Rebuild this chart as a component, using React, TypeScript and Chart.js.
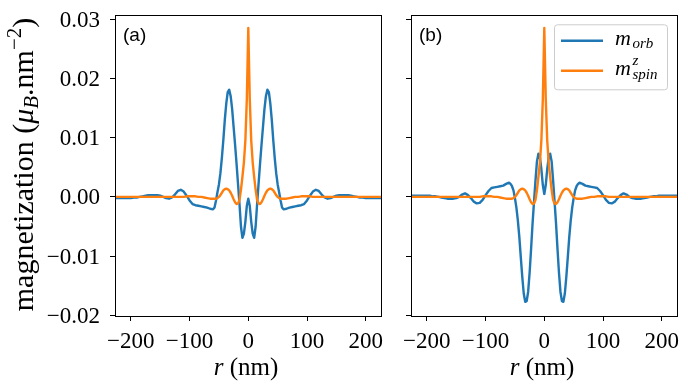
import React, { useEffect, useRef } from "react";
import { Chart, registerables } from "chart.js";

Chart.register(...registerables);

// radial position r (nm)
const rValues: number[] = [
  -230, -225, -220, -215, -210, -205, -200, -195, -190, -185,
  -180, -175, -170, -165, -160, -155, -150, -145, -140, -135,
  -130, -125, -120, -115, -110, -105, -100, -95, -90, -85,
  -80, -75, -70, -65, -60,
  -57.5, -55, -52.5, -50, -47.5, -45, -42.5, -40, -37.5, -35, -32.5, -30,
  -27.5, -25, -22.5, -20, -17.5, -15, -12.5, -10, -7.5, -5, -2.5,
  0,
  2.5, 5, 7.5, 10, 12.5, 15, 17.5, 20, 22.5, 25, 27.5, 30,
  32.5, 35, 37.5, 40, 42.5, 45, 47.5, 50, 52.5, 55, 57.5,
  60, 65, 70, 75, 80,
  85, 90, 95, 100, 105, 110, 115, 120, 125, 130,
  135, 140, 145, 150, 155, 160, 165, 170, 175, 180,
  185, 190, 195, 200, 205, 210, 215, 220, 225, 230,
];

// m^z_spin (same in both panels)
const spinZ: number[] = [
  0, 0, 0, 0, 0, 0, 0, 0, 0, 0,
  0, 0, 0, 0, 0, 0, 0, 0, 0, 0,
  0, 0, 0, 0, 0, 0.0001, 0.0001, 0.0001, 0.0001, 0,
  0, -0.0001, -0.0002, -0.0003, -0.0003,
  -0.0003, -0.0003, -0.0002, 0, 0.0003, 0.0007, 0.0011, 0.0013, 0.0014, 0.0013, 0.0011, 0.0007,
  0.0002, -0.0004, -0.0009, -0.0012, -0.0011, -0.0005, 0.0012, 0.0034, 0.0058, 0.0095, 0.0165,
  0.0285,
  0.0165, 0.0095, 0.0058, 0.0034, 0.0012, -0.0005, -0.0011, -0.0012, -0.0009, -0.0004, 0.0002, 0.0007,
  0.0011, 0.0013, 0.0014, 0.0013, 0.0011, 0.0007, 0.0003, 0, -0.0002, -0.0003, -0.0003,
  -0.0003, -0.0003, -0.0002, -0.0001, 0,
  0, 0.0001, 0.0001, 0.0001, 0.0001, 0, 0, 0, 0, 0,
  0, 0, 0, 0, 0, 0, 0, 0, 0, 0,
  0, 0, 0, 0, 0, 0, 0, 0, 0, 0,
];

// m_orb, panel (a)
const orbA: number[] = [
  -0.0002, -0.0002, -0.0002, -0.0002, -0.0002, -0.0002, -0.0002, -0.0001, -0.0001, 0,
  0.0001, 0.0002, 0.0003, 0.0003, 0.0003, 0.0003, 0.0002, 0, -0.0002, -0.0003,
  -0.0001, 0.0004, 0.001, 0.0012, 0.0009, 0.0002, -0.0006, -0.0012, -0.0014, -0.0015,
  -0.0016, -0.0017, -0.0018, -0.002, -0.0021,
  -0.0018, -0.0006, 0.0008, 0.0021, 0.004, 0.0066, 0.0096, 0.013, 0.0158, 0.0177, 0.0181, 0.017,
  0.0148, 0.0118, 0.0088, 0.0056, 0.0022, -0.0012, -0.005, -0.0069, -0.0062, -0.0042, -0.0015,
  -0.0003,
  -0.0015, -0.0042, -0.0062, -0.0069, -0.005, -0.0012, 0.0022, 0.0056, 0.0088, 0.0118, 0.0148, 0.017,
  0.0181, 0.0177, 0.0158, 0.013, 0.0096, 0.0066, 0.004, 0.0021, 0.0008, -0.0006, -0.0018,
  -0.0021, -0.002, -0.0018, -0.0017, -0.0016,
  -0.0015, -0.0014, -0.0012, -0.0006, 0.0002, 0.0009, 0.0012, 0.001, 0.0004, -0.0001,
  -0.0003, -0.0002, 0, 0.0002, 0.0003, 0.0003, 0.0003, 0.0003, 0.0002, 0.0001,
  0, -0.0001, -0.0001, -0.0002, -0.0002, -0.0002, -0.0002, -0.0002, -0.0002, -0.0002,
];

// m_orb, panel (b)
const orbB: number[] = [
  0.0002, 0.0002, 0.0002, 0.0002, 0.0002, 0.0002, 0.0002, 0.0002, 0.0001, 0.0001,
  0, -0.0001, -0.0002, -0.0003, -0.0003, -0.0003, -0.0002, 0, 0.0004, 0.0006,
  0.0003, -0.0002, -0.0008, -0.0011, -0.001, -0.0005, 0.0003, 0.001, 0.0015, 0.0016,
  0.0017, 0.0018, 0.0019, 0.0022, 0.0024,
  0.0022, 0.0018, 0.0011, -0.0002, -0.0018, -0.004, -0.0068, -0.0102, -0.0135, -0.0163, -0.0177, -0.0176,
  -0.016, -0.0128, -0.0088, -0.0045, -0.0008, 0.0028, 0.006, 0.0073, 0.0067, 0.0047, 0.002,
  0.0005,
  0.002, 0.0047, 0.0067, 0.0073, 0.006, 0.0028, -0.0008, -0.0045, -0.0088, -0.0128, -0.016, -0.0176,
  -0.0177, -0.0163, -0.0135, -0.0102, -0.0068, -0.004, -0.0018, -0.0002, 0.0011, 0.0018, 0.0022,
  0.0024, 0.0022, 0.0019, 0.0018, 0.0017,
  0.0016, 0.0015, 0.001, 0.0003, -0.0005, -0.001, -0.0011, -0.0008, -0.0002, 0.0003,
  0.0006, 0.0004, 0, -0.0002, -0.0003, -0.0003, -0.0003, -0.0002, -0.0001, 0,
  0.0001, 0.0001, 0.0002, 0.0002, 0.0002, 0.0002, 0.0002, 0.0002, 0.0002, 0.0002,
];

const xTickValues: number[] = [-200, -100, 0, 100, 200];
const yTickValues: number[] = [-0.02, -0.01, 0, 0.01, 0.02, 0.03];
const panelTags: string[] = ["(a)", "(b)"];
const xLimits: number[] = [-227, 226];
const yLimits: number[] = [-0.0201, 0.0307];

const BLUE = "#1f77b4";
const ORANGE = "#ff7f0e";
const SERIF = "'Liberation Serif', 'Times New Roman', serif";
const SANS = "'Liberation Sans', Arial, sans-serif";

function minusFmt(v: number, digits: number): string {
  const s = Math.abs(v).toFixed(digits);
  return v < -1e-9 ? "\u2212" + s : s;
}

type Seg = { t: string; f: string; dy?: number };

function segWidth(ctx: CanvasRenderingContext2D, segs: Seg[]): number {
  let w = 0;
  for (const s of segs) {
    ctx.font = s.f;
    w += ctx.measureText(s.t).width;
  }
  return w;
}

function drawSegs(ctx: CanvasRenderingContext2D, segs: Seg[], x: number, y: number) {
  let cx = x;
  for (const s of segs) {
    ctx.font = s.f;
    ctx.fillText(s.t, cx, y + (s.dy || 0));
    cx += ctx.measureText(s.t).width;
  }
}

interface PanelProps {
  index: number;
  orb: number[];
  left: number;
  width: number;
  yAxisWidth: number;
  rightPad: number;
}

function Panel({ index, orb, left, width, yAxisWidth, rightPad }: PanelProps) {
  const ref = useRef<HTMLCanvasElement | null>(null);
  const first = index === 0;

  useEffect(() => {
    const canvas = ref.current;
    if (!canvas) return;

    const decor = {
      id: "decor" + index,
      afterDraw(chart: any) {
        const ctx: CanvasRenderingContext2D = chart.ctx;
        const ca = chart.chartArea;
        ctx.save();
        // frame (spines)
        ctx.strokeStyle = "#000";
        ctx.lineWidth = 1;
        ctx.strokeRect(
          Math.round(ca.left) + 0.5,
          Math.round(ca.top) + 0.5,
          Math.round(ca.right - ca.left),
          Math.round(ca.bottom - ca.top)
        );
        ctx.fillStyle = "#000";
        ctx.textAlign = "left";
        ctx.textBaseline = "alphabetic";
        // panel tag
        ctx.font = `19px ${SANS}`;
        ctx.fillText(panelTags[index], ca.left + 8, ca.top + 26);
        // x title
        const xSegs: Seg[] = [
          { t: "r", f: `italic 25px ${SERIF}` },
          { t: " (nm)", f: `25px ${SERIF}` },
        ];
        const xw = segWidth(ctx, xSegs);
        drawSegs(ctx, xSegs, (ca.left + ca.right) / 2 - xw / 2 - 2, 375);
        // y title
        if (first) {
          const ySegs: Seg[] = [
            { t: "magnetization (", f: `30px ${SERIF}` },
            { t: "\u03bc", f: `italic 30px ${SERIF}` },
            { t: "B", f: `italic 21px ${SERIF}`, dy: 5 },
            { t: ".nm", f: `30px ${SERIF}` },
            { t: "\u22122", f: `21px ${SERIF}`, dy: -12 },
            { t: ")", f: `30px ${SERIF}` },
          ];
          const yw = segWidth(ctx, ySegs);
          ctx.save();
          ctx.translate(33, (ca.top + ca.bottom) / 2 - 1);
          ctx.rotate(-Math.PI / 2);
          drawSegs(ctx, ySegs, -yw / 2, 0);
          ctx.restore();
        } else {
          // legend
          const bw = 113;
          const bh = 65;
          const bx = ca.right - 10 - bw;
          const by = ca.top + 9.3;
          ctx.beginPath();
          (ctx as any).roundRect(bx + 0.5, by + 0.5, bw, bh, 3);
          ctx.fillStyle = "rgba(255,255,255,0.8)";
          ctx.fill();
          ctx.strokeStyle = "#cccccc";
          ctx.lineWidth = 1;
          ctx.stroke();
          ctx.lineWidth = 2.4;
          ctx.strokeStyle = BLUE;
          ctx.beginPath();
          ctx.moveTo(bx + 7, by + 16.4);
          ctx.lineTo(bx + 49, by + 16.4);
          ctx.stroke();
          ctx.strokeStyle = ORANGE;
          ctx.beginPath();
          ctx.moveTo(bx + 7, by + 46.4);
          ctx.lineTo(bx + 49, by + 46.4);
          ctx.stroke();
          ctx.fillStyle = "#000";
          const tx = bx + 61;
          ctx.font = `italic 22px ${SERIF}`;
          const mw = ctx.measureText("m").width;
          ctx.fillText("m", tx, by + 20.7);
          ctx.font = `italic 15px ${SERIF}`;
          ctx.fillText("orb", tx + mw + 1.5, by + 23.5);
          ctx.font = `italic 22px ${SERIF}`;
          ctx.fillText("m", tx, by + 50.7);
          ctx.font = `italic 15px ${SERIF}`;
          ctx.fillText("z", tx + mw + 1.5, by + 40.5);
          ctx.fillText("spin", tx + mw + 1.5, by + 54.5);
        }
        ctx.restore();
      },
    };

    const tickFont = { family: SERIF, size: 23 };
    const lineBase = {
      borderWidth: 2.4,
      pointRadius: 0,
      fill: false,
      clip: 0,
      borderJoinStyle: "round",
      borderCapStyle: "round",
    };
    const config: any = {
      type: "line",
      data: {
        datasets: [
          {
            ...lineBase,
            label: "m_spin^z",
            data: rValues.map((r, i) => ({ x: r, y: spinZ[i] })),
            borderColor: ORANGE,
            backgroundColor: ORANGE,
          },
          {
            ...lineBase,
            label: "m_orb",
            data: rValues.map((r, i) => ({ x: r, y: orb[i] })),
            borderColor: BLUE,
            backgroundColor: BLUE,
          },
        ],
      },
      options: {
        animation: false,
        responsive: false,
        maintainAspectRatio: false,
        devicePixelRatio: 1,
        events: [],
        layout: { padding: { left: 0, right: rightPad, top: 15, bottom: 0 } },
        plugins: { legend: { display: false }, tooltip: { enabled: false }, title: { display: false } },
        scales: {
          x: {
            type: "linear",
            min: xLimits[0],
            max: xLimits[1],
            afterBuildTicks: (s: any) => {
              s.ticks = xTickValues.map((v) => ({ value: v }));
            },
            afterFit: (s: any) => {
              s.height = 74;
              s.paddingLeft = 0;
              s.paddingRight = 0;
              s.paddingTop = 0;
              s.paddingBottom = 0;
            },
            grid: { display: true, drawOnChartArea: false, drawTicks: true, tickLength: 5, color: "#000", lineWidth: 1 },
            border: { display: false },
            ticks: {
              color: "#000",
              font: tickFont,
              padding: 7,
              maxRotation: 0,
              autoSkip: false,
              callback: (v: number) => minusFmt(v, 0),
            },
          },
          y: {
            type: "linear",
            min: yLimits[0],
            max: yLimits[1],
            afterBuildTicks: (s: any) => {
              s.ticks = yTickValues.map((v) => ({ value: v }));
            },
            afterFit: (s: any) => {
              s.width = yAxisWidth;
              s.paddingLeft = 0;
              s.paddingRight = 0;
              s.paddingTop = 0;
              s.paddingBottom = 0;
            },
            grid: { display: true, drawOnChartArea: false, drawTicks: true, tickLength: 5, color: "#000", lineWidth: 1 },
            border: { display: false },
            ticks: {
              color: "#000",
              font: tickFont,
              padding: 10,
              labelOffset: 1.5,
              autoSkip: false,
              callback: (v: number) => (first ? minusFmt(v, 2) : ""),
            },
          },
        },
      },
      plugins: [decor],
    };

    const chart = new Chart(canvas, config);
    return () => chart.destroy();
  }, [index, orb, left, width, yAxisWidth, rightPad, first]);

  return (
    <canvas
      ref={ref}
      width={width}
      height={390}
      style={{ position: "absolute", left, top: 0, width, height: 390 }}
    />
  );
}

export default function App() {
  return (
    <div
      style={{
        position: "fixed",
        left: 0,
        top: 0,
        width: 688,
        height: 390,
        background: "#fff",
        overflow: "hidden",
      }}
    >
      <Panel index={0} orb={orbA} left={0} width={400} yAxisWidth={115} rightPad={19} />
      <Panel index={1} orb={orbB} left={380} width={308} yAxisWidth={31} rightPad={11} />
    </div>
  );
}
